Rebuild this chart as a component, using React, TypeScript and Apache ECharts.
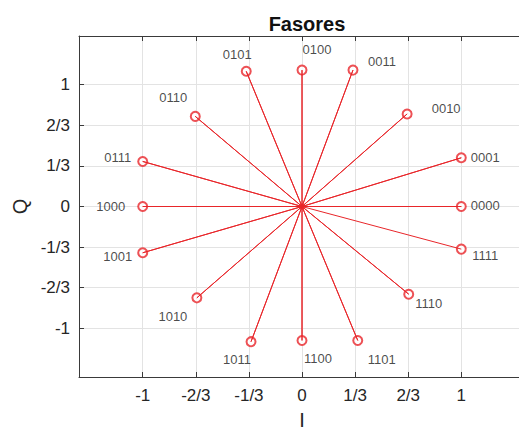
import React, { useEffect, useRef } from "react";
import * as echarts from "echarts";

const symbolLabels = ["0000", "0001", "0010", "0011", "0100", "0101", "0110", "0111", "1000", "1001", "1010", "1011", "1100", "1101", "1110", "1111"];
const iValues = [1, 1, 0.66, 0.32, 0, -0.35, -0.67, -1, -1, -1, -0.66, -0.32, 0, 0.35, 0.67, 1];
const qValues = [0, 0.4, 0.76, 1.12, 1.12, 1.11, 0.74, 0.37, 0, -0.38, -0.75, -1.11, -1.1, -1.1, -0.72, -0.35];
const tickValues = [-1, -2 / 3, -1 / 3, 0, 1 / 3, 2 / 3, 1];
const tickLabels = ["-1", "-2/3", "-1/3", "0", "1/3", "2/3", "1"];

// label placement (style only)
const labelOffsets: number[][] = [
  [24, -1], [24, 0], [39, -5], [29, -9], [15, -21], [-9, -17], [-22, -19], [-25, -4],
  [-32, 0], [-25, 4], [-24, 19], [-14, 18], [16, 18], [24, 19], [20, 9], [24, 6],
];

const RED = "#e8262a";
const FONT = "Liberation Sans, Arial, sans-serif";

function fmt(v: number) {
  const k = Math.round(v * 3);
  const idx = k + 3;
  return tickLabels[idx] ?? "";
}

export default function App() {
  const ref = useRef<HTMLDivElement>(null);
  useEffect(() => {
    if (!ref.current) return;
    const chart = echarts.init(ref.current, null, { renderer: "svg" });
    const spokes: number[][] = [];
    iValues.forEach((x, i) => {
      spokes.push([0, 0]);
      spokes.push([x, qValues[i]]);
    });
    const pts = iValues.map((x, i) => ({
      value: [x, qValues[i]],
      name: symbolLabels[i],
      label: { offset: labelOffsets[i] },
    }));
    const axisCommon = {
      type: "value",
      min: -1.4,
      max: 1.4,
      axisLine: { onZero: false, lineStyle: { color: "#3a3a3a", width: 1 } },
      axisTick: { show: true, inside: true, length: 5, customValues: tickValues, lineStyle: { color: "#3a3a3a" } },
      splitLine: { show: true, lineStyle: { color: "#e3e3e3", width: 1 } },
    };
    chart.setOption({
      animation: false,
      backgroundColor: "#ffffff",
      title: {
        text: "Fasores",
        left: 302,
        textAlign: "center",
        top: 9,
        textStyle: { fontFamily: FONT, fontSize: 20, fontWeight: "bold", color: "#111" },
      },
      grid: { left: 79, top: 36, right: -6, bottom: 54, containLabel: false, outerBoundsMode: "none" },
      xAxis: [
        {
          ...axisCommon,
          position: "bottom",
          name: "I",
          nameLocation: "middle",
          nameGap: 33,
          nameTextStyle: { fontFamily: FONT, fontSize: 20, color: "#262626" },
          axisLabel: {
            customValues: tickValues,
            formatter: fmt,
            margin: 10,
            fontFamily: FONT,
            fontSize: 17,
            color: "#262626",
          },
        },
        {
          ...axisCommon,
          position: "top",
          splitLine: { show: false },
          axisLabel: { show: false },
        },
      ],
      yAxis: {
        ...axisCommon,
        position: "left",
        name: "Q",
        nameLocation: "middle",
        nameGap: 48,
        nameTextStyle: { fontFamily: FONT, fontSize: 20, color: "#262626" },
        axisLabel: {
          customValues: tickValues,
          formatter: fmt,
          margin: 9,
          fontFamily: FONT,
          fontSize: 17,
          color: "#262626",
        },
      },
      series: [
        {
          type: "line",
          data: spokes,
          xAxisIndex: 0,
          showSymbol: false,
          symbol: "none",
          lineStyle: { color: RED, width: 1 },
          silent: true,
        },
        {
          type: "scatter",
          xAxisIndex: 0,
          data: pts,
          symbol: "emptyCircle",
          symbolSize: 9,
          itemStyle: { color: RED, borderColor: RED, borderWidth: 1 },
          label: {
            show: true,
            position: "inside",
            formatter: (p: any) => p.name,
            fontFamily: FONT,
            fontSize: 13,
            color: "#1a1a1a",
          },
        },
        {
          type: "scatter",
          xAxisIndex: 0,
          data: [[0, 0]],
          symbol: "circle",
          symbolSize: 6,
          itemStyle: { color: "#ff1010" },
        },
      ],
    });
    return () => chart.dispose();
  }, []);
  return (
    <div
      ref={ref}
      style={{ position: "absolute", left: 0, top: 0, width: 519, height: 431 }}
    />
  );
}
